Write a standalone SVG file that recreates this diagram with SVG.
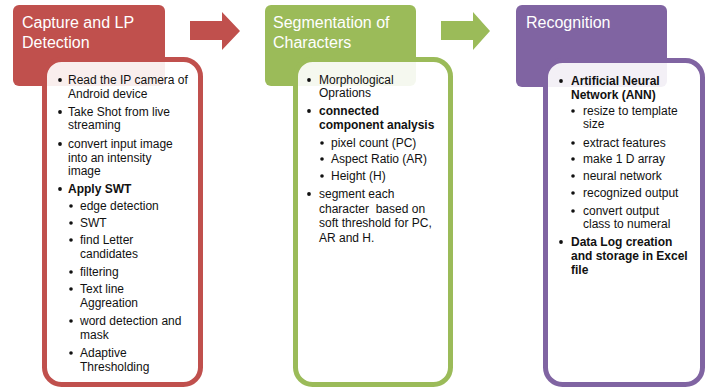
<svg xmlns="http://www.w3.org/2000/svg" width="710" height="390" viewBox="0 0 710 390">
<style>
.hdr{font-family:"Liberation Sans",Arial,sans-serif;font-size:16px;fill:#fff}
.t{font-family:"Liberation Sans",Arial,sans-serif;font-size:12px;fill:#111}
.b{font-weight:bold}
.inner{fill:#fff;fill-opacity:0.9;stroke-width:5}
.bul{fill:#111}
</style>
<rect width="710" height="390" fill="#fff"/>
<g id="connectors">
  <polygon points="190,21 222,21 222,12 240,31 222,50 222,40 190,40" fill="#C0504D"/>
  <polygon points="441,21 473,21 473,12 490,31 473,50 473,40 441,40" fill="#9BBB59"/>
</g>
<g id="capture">
  <rect x="13" y="5" width="152" height="81" rx="6" fill="#C0504D"/>
  <text class="hdr" x="22" y="28">Capture and LP</text>
  <text class="hdr" x="22" y="48">Detection</text>
  <rect class="inner" x="44.5" y="59.5" width="156" height="325" rx="17" stroke="#C0504D"/>
  <g class="bul">
    <circle cx="60" cy="80" r="1.9"/><circle cx="60" cy="112" r="1.9"/><circle cx="60" cy="144" r="1.9"/><circle cx="60" cy="189" r="1.9"/>
    <circle cx="71" cy="206" r="1.8"/><circle cx="71" cy="223" r="1.8"/><circle cx="71" cy="240" r="1.8"/><circle cx="71" cy="272" r="1.8"/>
    <circle cx="71" cy="289" r="1.8"/><circle cx="71" cy="321" r="1.8"/><circle cx="71" cy="353" r="1.8"/>
  </g>
  <text class="t" x="68" y="84">Read the IP camera of</text>
  <text class="t" x="68" y="98">Android device</text>
  <text class="t" x="68" y="116">Take Shot from live</text>
  <text class="t" x="68" y="129">streaming</text>
  <text class="t" x="68" y="148">convert input image</text>
  <text class="t" x="68" y="162">into an intensity</text>
  <text class="t" x="68" y="175">image</text>
  <text class="t b" x="68" y="193">Apply SWT</text>
  <text class="t" x="80" y="210">edge detection</text>
  <text class="t" x="80" y="227">SWT</text>
  <text class="t" x="80" y="244">find Letter</text>
  <text class="t" x="80" y="258">candidates</text>
  <text class="t" x="80" y="276">filtering</text>
  <text class="t" x="80" y="293">Text line</text>
  <text class="t" x="80" y="307">Aggreation</text>
  <text class="t" x="80" y="325">word detection and</text>
  <text class="t" x="80" y="339">mask</text>
  <text class="t" x="80" y="357">Adaptive</text>
  <text class="t" x="80" y="371">Thresholding</text>
</g>
<g id="segmentation">
  <rect x="265" y="5" width="151" height="81" rx="6" fill="#9BBB59"/>
  <text class="hdr" x="273" y="28">Segmentation of</text>
  <text class="hdr" x="273" y="48">Characters</text>
  <rect class="inner" x="295.5" y="59.5" width="155" height="325" rx="17" stroke="#9BBB59"/>
  <g class="bul">
    <circle cx="309" cy="80" r="1.9"/><circle cx="309" cy="111" r="1.9"/><circle cx="309" cy="194" r="1.9"/>
    <circle cx="322" cy="143" r="1.8"/><circle cx="322" cy="159" r="1.8"/><circle cx="322" cy="176" r="1.8"/>
  </g>
  <text class="t" x="319" y="84">Morphological</text>
  <text class="t" x="319" y="97">Oprations</text>
  <text class="t b" x="319" y="115">connected</text>
  <text class="t b" x="319" y="129">component analysis</text>
  <text class="t" x="331" y="147">pixel count (PC)</text>
  <text class="t" x="331" y="163">Aspect Ratio (AR)</text>
  <text class="t" x="331" y="180">Height (H)</text>
  <text class="t" x="319" y="198">segment each</text>
  <text class="t" x="319" y="213" xml:space="preserve">character  based on</text>
  <text class="t" x="319" y="227">soft threshold for PC,</text>
  <text class="t" x="319" y="242">AR and H.</text>
</g>
<g id="recognition">
  <rect x="516" y="5" width="151" height="82" rx="6" fill="#8064A2"/>
  <text class="hdr" x="526" y="28">Recognition</text>
  <rect class="inner" x="545.5" y="60.5" width="157" height="324" rx="17" stroke="#8064A2"/>
  <g class="bul">
    <circle cx="561" cy="81" r="1.9"/><circle cx="561" cy="242" r="1.9"/>
    <circle cx="573" cy="111" r="1.8"/><circle cx="573" cy="143" r="1.8"/><circle cx="573" cy="159" r="1.8"/>
    <circle cx="573" cy="176" r="1.8"/><circle cx="573" cy="193" r="1.8"/><circle cx="573" cy="211" r="1.8"/>
  </g>
  <text class="t b" x="571" y="85">Artificial Neural</text>
  <text class="t b" x="571" y="99">Network (ANN)</text>
  <text class="t" x="583" y="115">resize to template</text>
  <text class="t" x="583" y="128">size</text>
  <text class="t" x="583" y="147">extract features</text>
  <text class="t" x="583" y="163">make 1 D array</text>
  <text class="t" x="583" y="180">neural network</text>
  <text class="t" x="583" y="197">recognized output</text>
  <text class="t" x="583" y="215">convert output</text>
  <text class="t" x="583" y="228">class to numeral</text>
  <text class="t b" x="571" y="246">Data Log creation</text>
  <text class="t b" x="571" y="260">and storage in Excel</text>
  <text class="t b" x="571" y="274">file</text>
</g>
</svg>
